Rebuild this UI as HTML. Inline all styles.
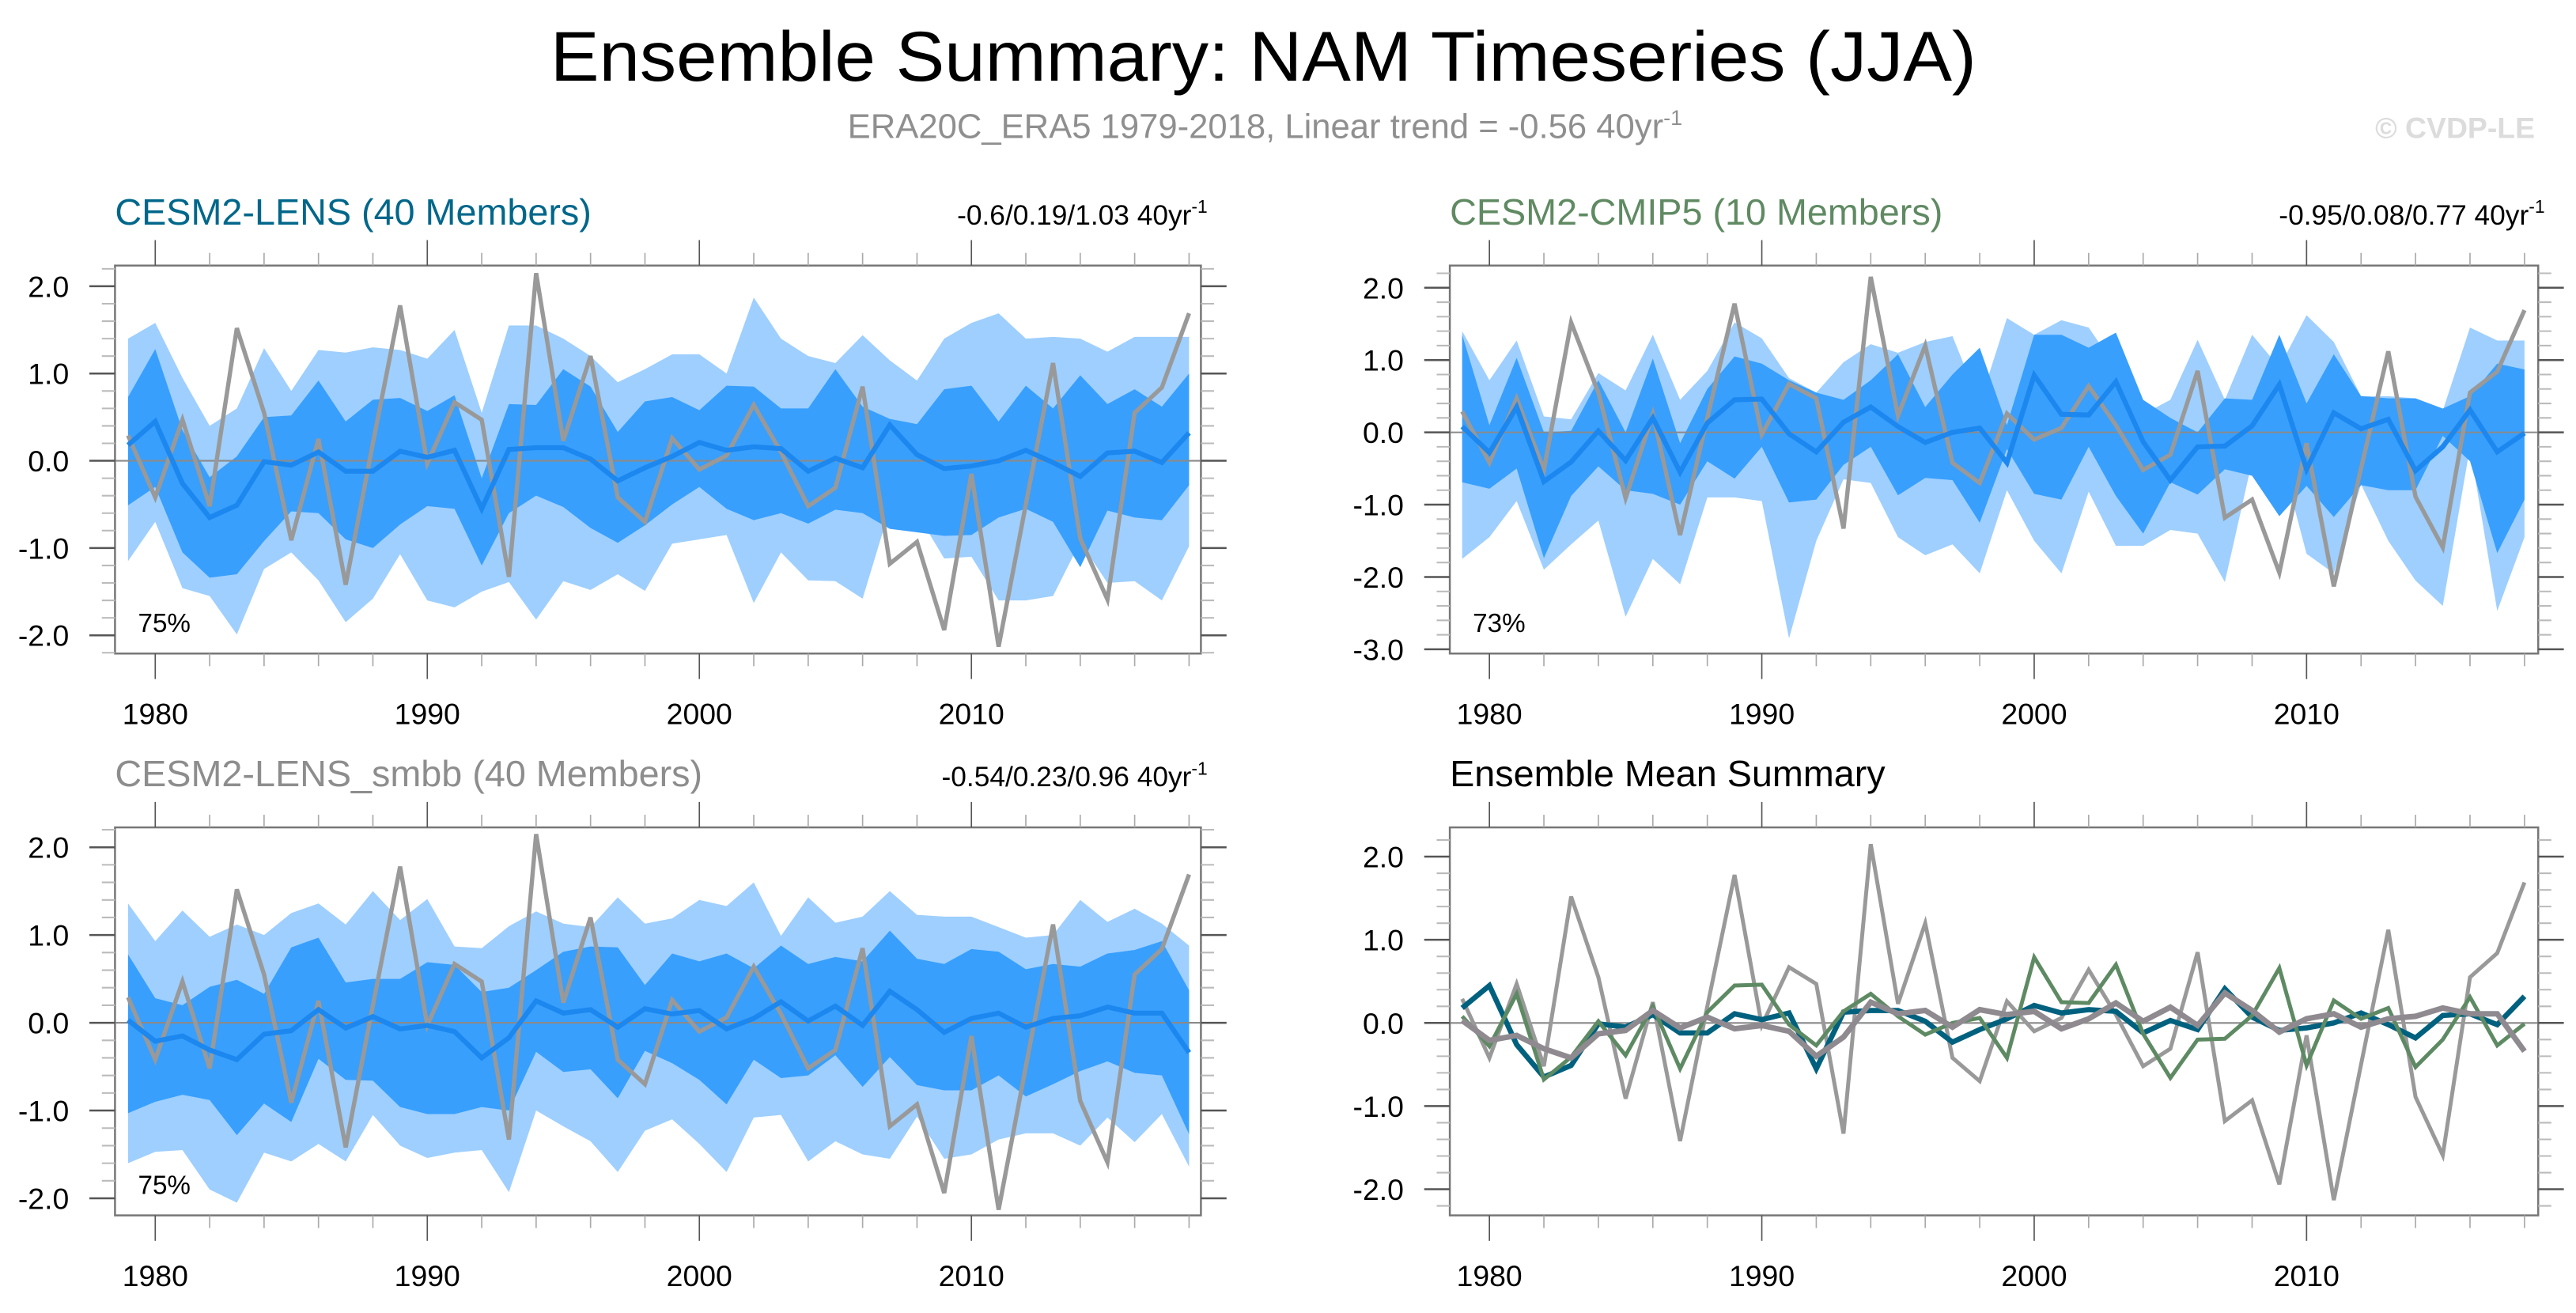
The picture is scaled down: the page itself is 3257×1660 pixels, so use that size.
<!DOCTYPE html>
<html><head><meta charset="utf-8"><style>
html,body{margin:0;padding:0;background:#fff}
svg{display:block}
text{font-family:"Liberation Sans",Arial,sans-serif}
</style></head><body>
<svg id="fig" width="3257" height="1660" viewBox="0 0 1568 799" preserveAspectRatio="none" xmlns="http://www.w3.org/2000/svg">
<rect width="1568" height="799" fill="#fff"/>
<text x="769" y="49" font-size="43" text-anchor="middle" fill="#000" textLength="868" lengthAdjust="spacingAndGlyphs">Ensemble Summary: NAM Timeseries (JJA)</text>
<text x="770" y="84" font-size="21" text-anchor="middle" fill="#8f8f8f">ERA20C_ERA5 1979-2018, Linear trend = -0.56 40yr<tspan dy="-8" font-size="13">-1</tspan></text>
<text x="1543" y="84" font-size="18" font-weight="bold" text-anchor="end" fill="#dcdcdc">© CVDP-LE</text>
<g id="g"></g>
</svg>
<script>
const years=[];for(let y=1979;y<=2018;y++)years.push(y);
const obs=[0.29,-0.42,0.47,-0.52,1.52,0.55,-0.91,0.25,-1.42,0.2,1.78,-0.03,0.67,0.47,-1.33,2.15,0.23,1.2,-0.42,-0.7,0.26,-0.1,0.06,0.64,0.1,-0.52,-0.31,0.85,-1.18,-0.93,-1.94,-0.15,-2.13,-0.5,1.12,-0.89,-1.59,0.55,0.84,1.69];
const lensMean=[0.18,0.45,-0.26,-0.65,-0.51,-0.01,-0.05,0.1,-0.12,-0.12,0.11,0.04,0.12,-0.55,0.13,0.15,0.15,0.02,-0.23,-0.08,0.05,0.21,0.12,0.16,0.14,-0.12,0.03,-0.08,0.41,0.07,-0.09,-0.06,0.0,0.12,-0.02,-0.18,0.09,0.11,-0.02,0.32];
const lensDarkHi=[0.73,1.28,0.35,-0.19,0.05,0.5,0.52,0.92,0.45,0.7,0.72,0.57,0.75,-0.2,0.65,0.64,1.05,0.85,0.33,0.68,0.73,0.58,0.86,0.85,0.6,0.6,1.05,0.62,0.48,0.42,0.82,0.86,0.45,0.86,0.6,0.98,0.65,0.82,0.62,1.0];
const lensDarkLo=[-0.51,-0.3,-1.05,-1.34,-1.3,-0.92,-0.58,-0.6,-0.9,-1.0,-0.73,-0.52,-0.55,-1.2,-0.6,-0.4,-0.53,-0.77,-0.94,-0.74,-0.5,-0.3,-0.55,-0.68,-0.6,-0.72,-0.56,-0.6,-0.78,-0.82,-0.86,-0.85,-0.65,-0.55,-0.7,-1.22,-0.57,-0.65,-0.68,-0.28];
const lensLightHi=[1.4,1.58,0.95,0.4,0.6,1.29,0.8,1.27,1.24,1.3,1.27,1.17,1.5,0.55,1.55,1.55,1.4,1.2,0.9,1.05,1.22,1.22,1.0,1.87,1.4,1.2,1.12,1.44,1.15,0.92,1.4,1.58,1.69,1.4,1.42,1.4,1.25,1.42,1.42,1.42];
const lensLightLo=[-1.15,-0.7,-1.46,-1.55,-1.99,-1.24,-1.05,-1.37,-1.85,-1.58,-1.07,-1.6,-1.68,-1.5,-1.39,-1.82,-1.38,-1.48,-1.3,-1.49,-0.95,-0.9,-0.85,-1.63,-1.05,-1.37,-1.38,-1.58,-0.55,-0.6,-1.12,-1.1,-1.6,-1.6,-1.55,-0.93,-1.4,-1.38,-1.6,-0.98];
const cmipMean=[0.08,-0.28,0.35,-0.68,-0.41,0.02,-0.39,0.2,-0.55,0.13,0.45,0.46,-0.02,-0.27,0.14,0.35,0.08,-0.14,0.0,0.06,-0.42,0.79,0.25,0.24,0.7,-0.13,-0.66,-0.2,-0.19,0.09,0.66,-0.51,0.27,0.05,0.18,-0.53,-0.2,0.31,-0.27,-0.01];
const cmipDarkHi=[1.35,0.1,1.03,0.0,0.02,0.72,0.0,1.02,-0.15,0.6,1.05,0.95,0.72,0.55,0.45,0.72,1.08,0.35,0.8,1.17,0.1,1.35,1.35,1.17,1.38,0.45,0.2,0.0,0.47,0.45,1.35,0.4,1.08,0.5,0.47,0.47,0.33,0.5,0.95,0.87];
const cmipDarkLo=[-0.69,-0.78,-0.5,-1.74,-0.88,-0.47,-0.8,-0.85,-1.0,-0.4,-0.64,-0.2,-0.97,-0.93,-0.45,-0.2,-0.87,-0.63,-0.66,-1.25,-0.23,-0.85,-0.93,-0.2,-0.88,-1.4,-0.69,-0.86,-0.51,-0.6,-1.16,-0.74,-1.17,-0.73,-0.8,-0.8,-0.05,-0.4,-1.67,-0.93];
const cmipLightHi=[1.4,0.72,1.27,0.22,0.18,0.82,0.58,1.35,0.45,0.85,1.52,1.3,0.75,0.55,0.97,1.22,1.1,1.25,1.33,0.4,1.58,1.35,1.55,1.45,0.9,0.25,0.45,1.28,0.45,1.35,0.9,1.62,1.25,0.5,0.5,0.47,0.3,1.45,1.27,1.27];
const cmipLightLo=[-1.75,-1.45,-0.95,-1.9,-1.55,-1.22,-2.55,-1.75,-2.1,-0.9,-0.9,-0.95,-2.85,-1.5,-0.65,-0.7,-1.45,-1.7,-1.55,-1.95,-0.8,-1.5,-1.95,-0.82,-1.57,-1.57,-1.35,-1.4,-2.07,-0.4,-0.25,-1.68,-1.95,-0.72,-1.5,-2.05,-2.4,-0.2,-2.47,-1.45];
const smbbMean=[0.03,-0.21,-0.15,-0.31,-0.42,-0.13,-0.09,0.15,-0.06,0.07,-0.07,-0.03,-0.1,-0.4,-0.17,0.25,0.11,0.15,-0.05,0.16,0.1,0.14,-0.07,0.05,0.24,0.02,0.19,-0.03,0.36,0.15,-0.11,0.05,0.11,-0.05,0.05,0.08,0.18,0.11,0.11,-0.34];
const smbbDarkHi=[0.78,0.28,0.2,0.41,0.49,0.33,0.86,0.97,0.46,0.5,0.5,0.69,0.66,0.35,0.4,0.6,0.81,0.87,0.86,0.43,0.79,0.7,0.79,0.62,0.88,0.67,0.75,0.7,1.05,0.73,0.67,0.84,0.81,0.61,0.67,0.64,0.79,0.83,0.93,0.37];
const smbbDarkLo=[-1.03,-0.9,-0.82,-0.88,-1.28,-0.92,-1.13,-0.41,-0.65,-0.66,-0.96,-1.04,-1.04,-0.96,-1.0,-0.33,-0.56,-0.53,-0.86,-0.32,-0.46,-0.65,-0.93,-0.42,-0.63,-0.6,-0.37,-0.73,-0.39,-0.71,-0.77,-0.77,-0.6,-0.84,-0.7,-0.55,-0.44,-0.57,-0.6,-1.27];
const smbbLightHi=[1.36,0.93,1.28,0.98,1.12,1.0,1.25,1.36,1.12,1.5,1.17,1.41,0.87,0.85,1.1,1.27,1.13,1.09,1.43,1.13,1.19,1.4,1.33,1.6,0.99,1.43,1.14,1.21,1.5,1.23,1.21,1.21,1.09,0.97,1.0,1.4,1.15,1.3,1.13,0.88];
const smbbLightLo=[-1.6,-1.47,-1.45,-1.9,-2.05,-1.48,-1.58,-1.38,-1.58,-1.05,-1.4,-1.54,-1.48,-1.45,-1.93,-1.0,-1.18,-1.35,-1.7,-1.23,-1.1,-1.38,-1.7,-1.08,-1.05,-1.58,-1.35,-1.5,-1.55,-1.07,-1.55,-1.5,-1.33,-1.26,-1.26,-1.4,-1.08,-1.36,-1.04,-1.64];
const xTickLabels=["1980","1990","2000","2010"];
const yTicksA=["2.0","1.0","0.0","-1.0","-2.0"];
const yTicksB=["2.0","1.0","0.0","-1.0","-2.0","-3.0"];

const NS="http://www.w3.org/2000/svg";
const G=document.getElementById('g');
function mk(tag,attrs,parent){const e=document.createElementNS(NS,tag);for(const k in attrs)e.setAttribute(k,attrs[k]);(parent||G).appendChild(e);return e;}

function panel(p){
  const g=mk('g',{});
  
  
  const X=y=>p.x1980+(y-1980)*p.step;
  const Y=v=>p.y0-v*p.unit;
  const cid='clip'+p.id;
  const cp=mk('clipPath',{id:cid},g);mk('rect',{x:p.l,y:p.t,width:p.r-p.l,height:p.b-p.t},cp);
  const pg=mk('g',{'clip-path':'url(#'+cid+')'},g);
  function band(hi,lo,fill,nm){
    let d='M'+years.map((yr,i)=>X(yr).toFixed(2)+','+Y(hi[i]).toFixed(2)).join('L');
    for(let i=years.length-1;i>=0;i--)d+='L'+X(years[i]).toFixed(2)+','+Y(lo[i]).toFixed(2);
    const e=mk('path',{d:d+'Z',fill:fill},pg);
    
    
  }
  function line(vals,col,w,nm){
    const d='M'+years.map((yr,i)=>X(yr).toFixed(2)+','+Y(vals[i]).toFixed(2)).join('L');
    const e=mk('path',{d:d,fill:'none',stroke:col,'stroke-width':w,'stroke-linejoin':'miter'},pg);
    
    
  }
  if(p.bands){
    band(p.bands[0],p.bands[1],'#9ecfff','outer-spread-band');
    band(p.bands[2],p.bands[3],'#389ffd','inner-spread-band');
  }
  mk('line',{x1:p.l,x2:p.r,y1:Y(0),y2:Y(0),stroke:'#8a8a8a','stroke-width':1},pg);
  p.lines.forEach(L=>line(L[0],L[1],L[2],L[3]));
  mk('rect',{x:p.l,y:p.t,width:p.r-p.l,height:p.b-p.t,fill:'none',stroke:'#777','stroke-width':1.2},g);
  for(let yr=1980;yr<=2018;yr+=2){
    const maj=(yr%10===0), len=maj?15.5:7.7, x=X(yr), c=maj?'#555':'#aaa';
    mk('line',{x1:x,x2:x,y1:p.t,y2:p.t-len,stroke:c,'stroke-width':0.8},g);
    mk('line',{x1:x,x2:x,y1:p.b,y2:p.b+len,stroke:c,'stroke-width':0.8},g);
  }
  xTickLabels.forEach(s=>{
    const t=mk('text',{x:X(+s),y:p.b+43,'font-size':18,'text-anchor':'middle',fill:'#000'},g);t.textContent=s;
    
    
  });
  const vmin=(p.t-p.y0)/-p.unit, vmax=(p.b-p.y0)/-p.unit;
  for(let k=Math.ceil(vmax*5);k<=Math.floor(vmin*5);k++){
    const v=k/5, maj=(k%5===0), len=maj?15.6:8, y=Y(v), c=maj?'#555':'#bbb';
    mk('line',{x1:p.l,x2:p.l-len,y1:y,y2:y,stroke:c,'stroke-width':maj?1.2:1},g);
    mk('line',{x1:p.r,x2:p.r+len,y1:y,y2:y,stroke:c,'stroke-width':maj?1.2:1},g);
  }
  p.yLabels.forEach(s=>{
    const t=mk('text',{x:p.l-28,y:Y(parseFloat(s))+6.5,'font-size':18,'text-anchor':'end',fill:'#000'},g);t.textContent=s;
    
    
  });
  const tt=mk('text',{x:p.l,y:p.t-25,'font-size':22.5,fill:p.tcol},g);tt.textContent=p.title;
  
  
  if(p.trend){
    const tr=mk('text',{x:p.r+4,y:p.t-25,'font-size':17,'text-anchor':'end',fill:'#000'},g);
    tr.textContent=p.trend+' 40yr';
    const sp=mk('tspan',{dy:-7,'font-size':11},tr);sp.textContent='-1';
    
    
  }
  if(p.pct){
    const pc=mk('text',{x:p.l+14,y:p.b-13,'font-size':16,fill:'#000'},g);pc.textContent=p.pct;
    
    
  }
}
panel({id:1,name:'panel-cesm2-lens',l:70,r:731,t:161.6,b:397.7,x1980:94.5,step:16.56,y0:280.4,unit:53.1,
  bands:[lensLightHi,lensLightLo,lensDarkHi,lensDarkLo],
  lines:[[obs,'#999',2.6,'obs-line'],[lensMean,'#1c87ee',3,'ensemble-mean-line']],
  yLabels:yTicksA,title:'CESM2-LENS (40 Members)',tcol:'#00678a',trend:'-0.6/0.19/1.03',pct:'75%'});
panel({id:2,name:'panel-cesm2-cmip5',l:882.5,r:1545,t:161.6,b:397.7,x1980:906.6,step:16.58,y0:263.1,unit:44,
  bands:[cmipLightHi,cmipLightLo,cmipDarkHi,cmipDarkLo],
  lines:[[obs,'#999',2.6,'obs-line'],[cmipMean,'#1c87ee',3,'ensemble-mean-line']],
  yLabels:yTicksB,title:'CESM2-CMIP5 (10 Members)',tcol:'#5f8a62',trend:'-0.95/0.08/0.77',pct:'73%'});
panel({id:3,name:'panel-cesm2-lens-smbb',l:70,r:731,t:503.5,b:739.6,x1980:94.5,step:16.56,y0:622.4,unit:53.4,
  bands:[smbbLightHi,smbbLightLo,smbbDarkHi,smbbDarkLo],
  lines:[[obs,'#999',2.6,'obs-line'],[smbbMean,'#1c87ee',3,'ensemble-mean-line']],
  yLabels:yTicksA,title:'CESM2-LENS_smbb (40 Members)',tcol:'#8d8d8d',trend:'-0.54/0.23/0.96',pct:'75%'});
panel({id:4,name:'panel-ensemble-mean-summary',l:882.5,r:1545,t:503.5,b:739.6,x1980:906.6,step:16.58,y0:622.5,unit:50.6,
  bands:null,
  lines:[[obs,'#999',2.4,'obs-line'],[lensMean,'#00617f',3.2,'lens-mean-line'],[cmipMean,'#5e8a63',2.4,'cmip5-mean-line'],[smbbMean,'#8f8a8f',3.4,'smbb-mean-line']],
  yLabels:yTicksA,title:'Ensemble Mean Summary',tcol:'#000',trend:null,pct:null});
</script>
</body></html>
